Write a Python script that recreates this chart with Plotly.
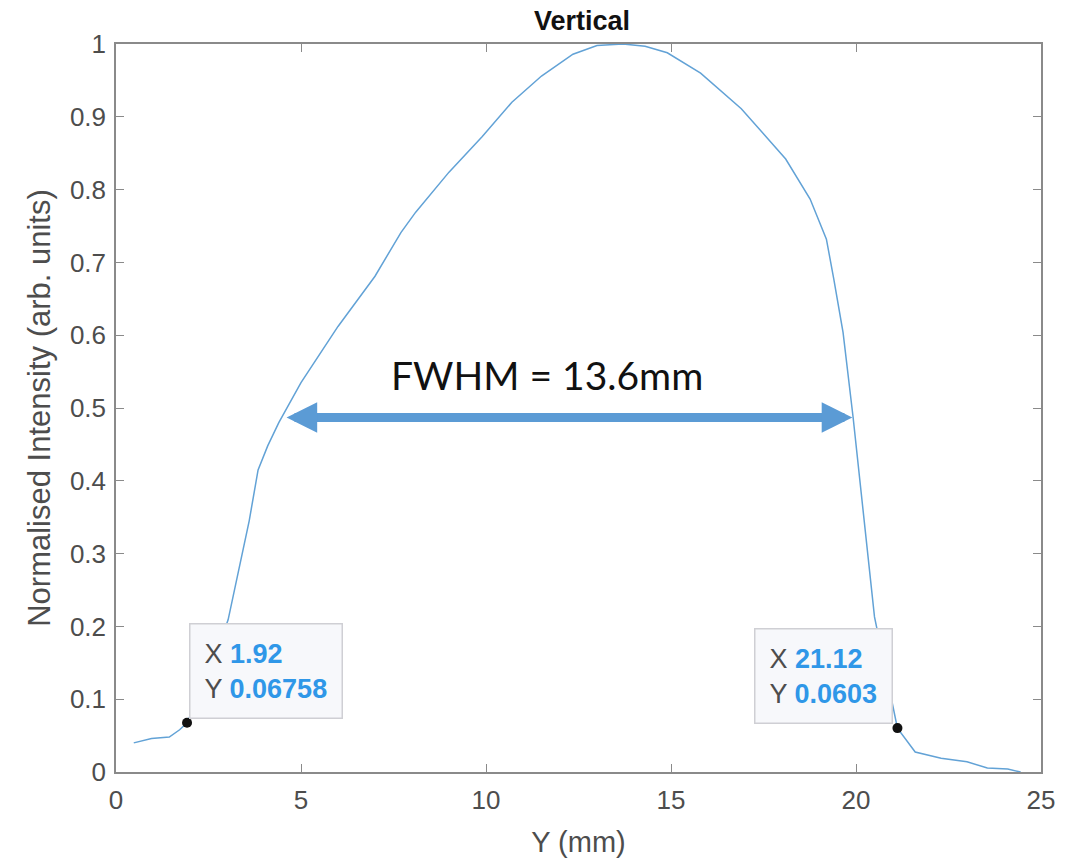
import plotly.graph_objects as go

# Profile data
y_mm = [0.48, 0.96, 1.44, 1.72, 1.92, 2.5, 3.03, 3.6, 3.84, 4.1, 4.4, 5.0, 6.0, 7.0,
        7.7, 8.1, 9.0, 9.9, 10.7, 11.5, 12.35, 13.0, 13.7, 14.3, 14.9, 15.8, 16.9,
        18.1, 18.76, 19.2, 19.4, 19.65, 19.92, 20.5, 21.12, 21.6, 22.3, 23.0, 23.55,
        24.1, 24.45]
intensity = [0.04, 0.046, 0.048, 0.058, 0.06758, 0.135, 0.209, 0.345, 0.415, 0.448,
             0.48, 0.535, 0.612, 0.681, 0.741, 0.769, 0.824, 0.873, 0.92, 0.956,
             0.986, 0.998, 1.0, 0.997, 0.988, 0.96, 0.911, 0.842, 0.787, 0.732,
             0.677, 0.604, 0.488, 0.213, 0.0603, 0.0275, 0.019, 0.014, 0.0055,
             0.004, 0.0]

# Data tips
tip_x = [1.92, 21.12]
tip_y = [0.06758, 0.0603]
tip_xlabels = ["1.92", "21.12"]
tip_ylabels = ["0.06758", "0.0603"]

# FWHM arrow
fwhm_start = 4.57
fwhm_end = 19.9
fwhm_level = 0.487
fwhm_text = "FWHM = 13.6mm"

x_ticks = [0, 5, 10, 15, 20, 25]
y_ticks = [0, 0.1, 0.2, 0.3, 0.4, 0.5, 0.6, 0.7, 0.8, 0.9, 1]

line_color = "#62a2d6"
axis_color = "#8a8a8a"
label_color = "#4d4d4d"
tip_blue = "#2f97e8"
font_sans = "Liberation Sans, Arial, sans-serif"

fig = go.Figure()
fig.add_trace(go.Scatter(x=y_mm, y=intensity, mode="lines",
                         line=dict(color=line_color, width=1.5), hoverinfo="skip"))
fig.add_trace(go.Scatter(x=tip_x, y=tip_y, mode="markers",
                         marker=dict(color="#111111", size=10), hoverinfo="skip"))

# FWHM double arrow
fig.add_annotation(x=fwhm_end, y=fwhm_level, ax=fwhm_start, ay=fwhm_level,
                   xref="x", yref="y", axref="x", ayref="y",
                   showarrow=True, arrowhead=2, startarrowhead=2,
                   arrowside="end+start", arrowwidth=9, arrowsize=0.68,
                   startarrowsize=0.68, arrowcolor="#5b9bd5", text="")
fig.add_annotation(x=(fwhm_start + fwhm_end) / 2 - 0.6, y=fwhm_level, yshift=42,
                   xref="x", yref="y", text=fwhm_text, showarrow=False,
                   font=dict(family="Lato, Open Sans, sans-serif", size=39, color="#111111"))

# Data tip boxes
anchors = ["left", "right"]
shifts = [2, -4]
for xv, yv, xl, yl, anc, sh in zip(tip_x, tip_y, tip_xlabels, tip_ylabels, anchors, shifts):
    txt = (f"<span style='color:{label_color}'>X</span> "
           f"<b><span style='color:{tip_blue}'>{xl}</span></b><br>"
           f"<span style='color:{label_color}'>Y</span> "
           f"<b><span style='color:{tip_blue}'>{yl}</span></b>")
    fig.add_annotation(x=xv, y=yv, xref="x", yref="y", text=txt, showarrow=False,
                       xanchor=anc, yanchor="bottom", align="left", xshift=sh, yshift=4,
                       font=dict(family=font_sans, size=27),
                       bgcolor="#f7f8fb", bordercolor="#cfcfd4", borderwidth=1.5,
                       borderpad=14)

axis_common = dict(showline=True, linecolor=axis_color, linewidth=1.5, mirror="ticks",
                   ticks="inside", ticklen=8, tickcolor=axis_color, tickwidth=1.2,
                   showgrid=False, zeroline=False,
                   tickfont=dict(family=font_sans, size=26, color=label_color))

fig.update_xaxes(range=[0, 25], tickvals=x_ticks, ticklabelstandoff=4, **axis_common,
                 title=dict(text="Y (mm)", standoff=18,
                            font=dict(family=font_sans, size=29, color=label_color)))
fig.update_yaxes(range=[0, 1], tickvals=y_ticks, ticklabelstandoff=3, **axis_common,
                 title=dict(text="Normalised Intensity (arb. units)", standoff=10,
                            font=dict(family=font_sans, size=31, color=label_color)))

fig.update_layout(
    width=1077, height=864,
    margin=dict(l=116, r=36, t=44, b=92),
    paper_bgcolor="white", plot_bgcolor="white",
    showlegend=False,
    title=dict(text="<b>Vertical</b>", x=582 / 1077, xanchor="center",
               y=1 - 21 / 864, yanchor="middle",
               font=dict(family=font_sans, size=27, color="#111111")),
)

fig.write_html("out.html")
